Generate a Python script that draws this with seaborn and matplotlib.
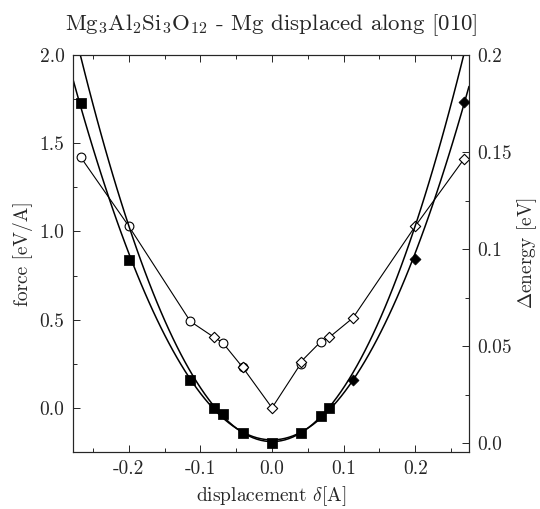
import matplotlib
matplotlib.use("Agg")
import matplotlib.pyplot as plt
from matplotlib.ticker import MultipleLocator
import seaborn as sns
import pandas as pd

# force [eV/A] (left axis), open markers
circ_x = [-0.267, -0.200, -0.114, -0.069, -0.041, 0.040, 0.068]
circ_f = [1.42, 1.03, 0.49, 0.37, 0.23, 0.25, 0.375]
diam_x = [-0.081, -0.041, 0.0, 0.040, 0.080, 0.113, 0.200, 0.268]
diam_f = [0.40, 0.23, 0.0, 0.26, 0.40, 0.51, 1.03, 1.41]

# energy [eV] (right axis), filled markers
sq_x = [-0.267, -0.200, -0.114, -0.081, -0.069, -0.041, 0.0, 0.040, 0.068, 0.080]
sq_e = [0.175, 0.0945, 0.0327, 0.018, 0.0152, 0.0054, 0.0, 0.0054, 0.014, 0.0183]
fd_x = [0.113, 0.200, 0.268]
fd_e = [0.0327, 0.095, 0.176]

# steeper energy curve
steep_x = [-0.268, -0.200, -0.100, 0.0, 0.100, 0.200, 0.268]
steep_e = [0.200, 0.113, 0.0285, 0.0, 0.0285, 0.113, 0.200]

sns.set_style("ticks")
plt.rcParams["font.family"] = ["cmr10", "DejaVu Serif"]
plt.rcParams["mathtext.fontset"] = "cm"
plt.rcParams["axes.unicode_minus"] = False
plt.rcParams["axes.formatter.use_mathtext"] = True

force = pd.DataFrame({"x": circ_x + diam_x, "f": circ_f + diam_f}).sort_values("x")
energy = pd.DataFrame({"x": sq_x + fd_x, "e": sq_e + fd_e})

fig = plt.figure(figsize=(5.4, 5.09), dpi=100)
ax = fig.add_axes([0.135, 0.112, 0.7335, 0.78])
ax.set_xlim(-0.278, 0.275)
ax.set_ylim(-0.25, 2.0)
ax2 = ax.twinx()
ax2.set_ylim(-0.0046, 0.2)

# force curve
sns.lineplot(data=force, x="x", y="f", sort=True, ax=ax, color="black", lw=0.8,
             estimator=None)
sns.scatterplot(x=circ_x, y=circ_f, ax=ax, marker="o", s=40, facecolor="white",
                edgecolor="black", linewidth=0.8, zorder=3)
sns.scatterplot(x=diam_x, y=diam_f, ax=ax, marker="D", s=28, facecolor="white",
                edgecolor="black", linewidth=0.8, zorder=3)

# energy fits
sns.regplot(data=energy, x="x", y="e", ax=ax2, order=2, ci=None, scatter=False,
            truncate=False, line_kws={"color": "black", "lw": 1.1})
sns.regplot(x=steep_x, y=steep_e, ax=ax2, order=2, ci=None, scatter=False,
            truncate=False, line_kws={"color": "black", "lw": 1.1})
sns.scatterplot(x=sq_x, y=sq_e, ax=ax2, marker="s", s=44, color="black",
                edgecolor="black", zorder=3)
sns.scatterplot(x=fd_x, y=fd_e, ax=ax2, marker="D", s=32, color="black",
                edgecolor="black", zorder=3)
ax2.set_xlim(-0.278, 0.275)

ax.xaxis.set_minor_locator(MultipleLocator(0.05))
ax.yaxis.set_minor_locator(MultipleLocator(0.25))
ax2.yaxis.set_minor_locator(MultipleLocator(0.025))
ax.set_xticks([-0.2, -0.1, 0.0, 0.1, 0.2])
ax.set_xticklabels(["-0.2", "-0.1", "0.0", "0.1", "0.2"])
ax.set_yticks([0.0, 0.5, 1.0, 1.5, 2.0])
ax.set_yticklabels(["0.0", "0.5", "1.0", "1.5", "2.0"])
ax2.set_yticks([0.0, 0.05, 0.1, 0.15, 0.2])
ax2.set_yticklabels(["0.0", "0.05", "0.1", "0.15", "0.2"])

ax.tick_params(which="both", direction="in", top=True, right=False, labelsize=14)
ax.tick_params(which="major", length=5, width=0.7, pad=6)
ax.tick_params(which="minor", length=3, width=0.7)
ax2.tick_params(which="both", direction="in", labelsize=14)
ax2.tick_params(which="major", length=5, width=0.7, pad=6)
ax2.tick_params(which="minor", length=3, width=0.7)
for a in (ax, ax2):
    for s in a.spines.values():
        s.set_linewidth(0.8)
        s.set_visible(True)

ax.set_xlabel(r"displacement $\delta$[A]", fontsize=14, labelpad=4)
ax.set_ylabel("force [eV/A]", fontsize=14, labelpad=5)
ax2.set_ylabel(r"$\Delta$energy [eV]", fontsize=14, labelpad=2)
ax.set_title(r"Mg$_3$Al$_2$Si$_3$O$_{12}$ - Mg displaced along [010]", fontsize=16.5, pad=18)

fig.savefig("out.png", dpi=100)
